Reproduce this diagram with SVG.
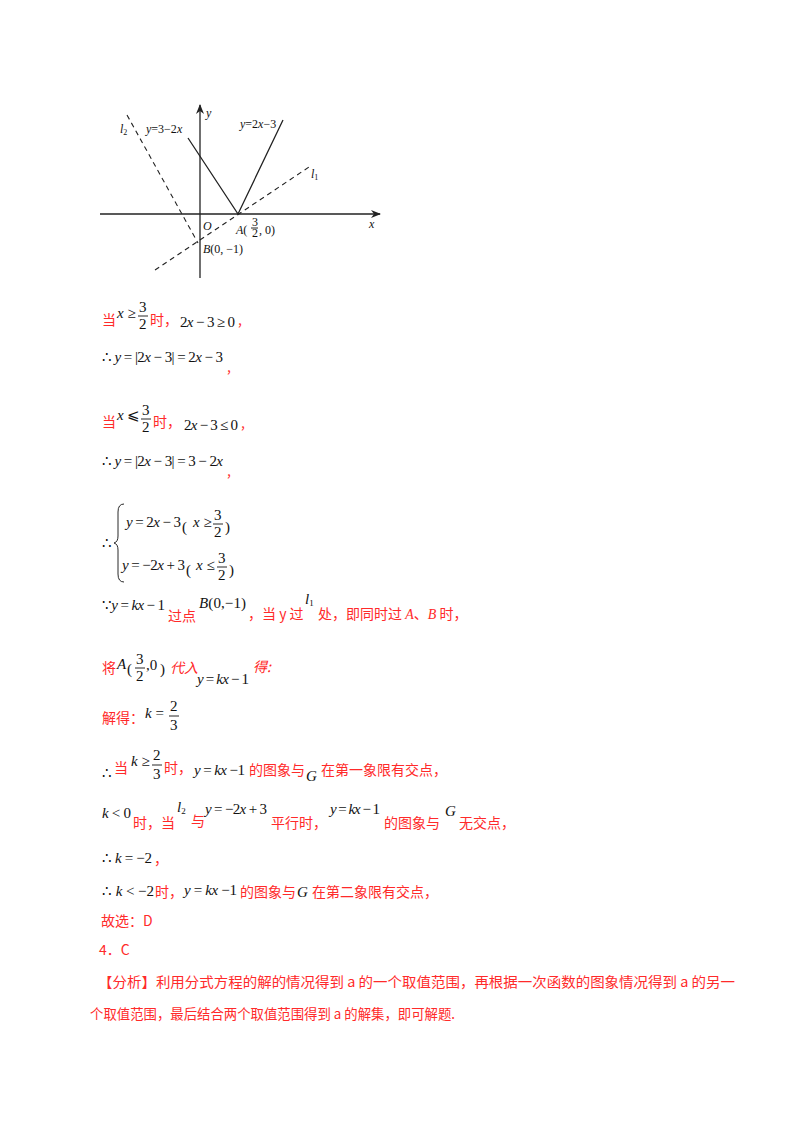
<svg xmlns="http://www.w3.org/2000/svg" width="800" height="1132" viewBox="0 0 800 1132">
<style>
.r{fill:#ff2a2a;font-family:"Noto Sans CJK SC",sans-serif;font-size:14px}
.m{fill:#111;font-family:"Liberation Serif",serif;font-size:15px}
.i{font-style:italic}
.g{fill:#111;font-family:"Liberation Serif",serif;font-size:12px;font-style:italic}
.gn{fill:#111;font-family:"Liberation Serif",serif;font-size:12px}
.ax{stroke:#222;stroke-width:1.3;fill:none}
.dash{stroke:#222;stroke-width:1.1;stroke-dasharray:5,4;fill:none}
.bar{stroke:#111;stroke-width:0.9}
</style>
<defs><marker id="ar" markerWidth="10" markerHeight="8" refX="9" refY="4" orient="auto" markerUnits="userSpaceOnUse"><path d="M0,0 L10,4 L0,8 L3,4 Z" fill="#222"/></marker></defs>
<rect width="800" height="1132" fill="#fff"/>
<g id="graph">
<line class="ax" x1="100" y1="214" x2="380" y2="214" marker-end="url(#ar)"/>
<line class="ax" x1="200" y1="278" x2="200" y2="105" marker-end="url(#ar)"/>
<polyline class="ax" points="188,138 238,214 283,120"/>
<line class="dash" x1="155" y1="270" x2="312" y2="165"/>
<line class="dash" x1="127" y1="115" x2="198" y2="243"/>
<text class="g" x="206" y="117">y</text>
<text class="g" x="120" y="133">l<tspan font-size="8" font-style="normal" dy="2">2</tspan></text>
<text class="g" x="146" y="133">y<tspan font-style="normal">=3−2</tspan>x</text>
<text class="g" x="240" y="128">y<tspan font-style="normal">=2</tspan>x<tspan font-style="normal">−3</tspan></text>
<text class="g" x="311" y="178">l<tspan font-size="8" font-style="normal" dy="2">1</tspan></text>
<text class="g" x="203" y="230">O</text>
<text class="g" x="236" y="234">A<tspan font-style="normal">(</tspan></text>
<text class="gn" x="252" y="226" font-size="10">3</text>
<line class="bar" x1="251" y1="228" x2="258" y2="228"/>
<text class="gn" x="252" y="237" font-size="10">2</text>
<text class="gn" x="259" y="234">, 0)</text>
<text class="g" x="203" y="253">B<tspan font-style="normal">(0, −1)</tspan></text>
<text class="g" x="369" y="228">x</text>
</g>
<g id="text">
<text class="r" x="102" y="325">当</text>
<text class="m" x="117" y="318"><tspan class="i">x</tspan> ≥</text>
<text class="m" x="139" y="312">3</text><line class="bar" x1="138" y1="316" x2="148" y2="316"/><text class="m" x="139" y="329">2</text>
<text class="r" x="150" y="325">时，</text>
<text class="m" x="180" y="327" textLength="55">2<tspan class="i">x</tspan> − 3 ≥ 0</text><text class="r" x="238" y="325">,</text>

<text class="m" x="102" y="362" textLength="121">∴ <tspan class="i">y</tspan> = |2<tspan class="i">x</tspan> − 3| = 2<tspan class="i">x</tspan> − 3</text>
<text class="r" x="227" y="372">,</text>

<text class="r" x="102" y="427">当</text>
<text class="m" x="117" y="420"><tspan class="i">x</tspan> ⩽</text>
<text class="m" x="142" y="415">3</text><line class="bar" x1="141" y1="419" x2="151" y2="419"/><text class="m" x="142" y="432">2</text>
<text class="r" x="153" y="427">时，</text>
<text class="m" x="184" y="430" textLength="54">2<tspan class="i">x</tspan> − 3 ≤ 0</text><text class="r" x="241" y="428">,</text>

<text class="m" x="102" y="466" textLength="121">∴ <tspan class="i">y</tspan> = |2<tspan class="i">x</tspan> − 3| = 3 − 2<tspan class="i">x</tspan></text>
<text class="r" x="227" y="476">,</text>

<text class="m" x="102" y="548">∴</text>
<path d="M124,504 Q118,504 118,512 L118,536 Q118,542 114,543 Q118,544 118,550 L118,574 Q118,582 124,582" fill="none" stroke="#111" stroke-width="0.9"/>
<text class="m" x="126" y="527" textLength="55"><tspan class="i">y</tspan> = 2<tspan class="i">x</tspan> − 3</text>
<text class="m" x="182" y="532" font-size="28">(</text>
<text class="m" x="193" y="527"><tspan class="i">x</tspan> ≥</text>
<text class="m" x="214" y="520">3</text><line class="bar" x1="213" y1="524" x2="223" y2="524"/><text class="m" x="214" y="537">2</text>
<text class="m" x="225" y="532" font-size="28">)</text>
<text class="m" x="122" y="570" textLength="63"><tspan class="i">y</tspan> = −2<tspan class="i">x</tspan> + 3</text>
<text class="m" x="186" y="575" font-size="28">(</text>
<text class="m" x="196" y="570"><tspan class="i">x</tspan> ≤</text>
<text class="m" x="218" y="563">3</text><line class="bar" x1="217" y1="567" x2="227" y2="567"/><text class="m" x="218" y="580">2</text>
<text class="m" x="229" y="575" font-size="28">)</text>

<text class="m" x="102" y="610" textLength="63">∵<tspan class="i">y</tspan> = <tspan class="i">kx</tspan> − 1</text>
<text class="r" x="168" y="621">过点</text>
<text class="m" x="199" y="608" textLength="47"><tspan class="i">B</tspan>(0,−1)</text>
<text class="r" x="248" y="619">，当 y 过</text>
<text class="m i" x="305" y="604">l<tspan font-size="9" font-style="normal" dy="2">1</tspan></text>
<text class="r" x="318" y="619">处，即同时过 <tspan font-style="italic" font-family="Liberation Serif">A</tspan>、<tspan font-style="italic" font-family="Liberation Serif">B</tspan> 时，</text>

<text class="r" x="102" y="673">将</text>
<text class="m i" x="117" y="669">A</text>
<text class="m" x="127" y="674" font-size="28">(</text>
<text class="m" x="136" y="664">3</text><line class="bar" x1="135" y1="668" x2="145" y2="668"/><text class="m" x="136" y="681">2</text>
<text class="m" x="146" y="670">,0</text>
<text class="m" x="160" y="674" font-size="28">)</text>
<text class="r" x="170" y="673" font-style="italic">代入</text>
<text class="m" x="197" y="684" textLength="52"><tspan class="i">y</tspan> = <tspan class="i">kx</tspan> − 1</text>
<text class="r" x="253" y="672" font-style="italic">得:</text>

<text class="r" x="102" y="723">解得：</text>
<text class="m" x="145" y="718"><tspan class="i">k</tspan> =</text>
<text class="m" x="170" y="711">2</text><line class="bar" x1="169" y1="716" x2="179" y2="716"/><text class="m" x="170" y="730">3</text>

<text class="m" x="102" y="778">∴</text>
<text class="r" x="114" y="773">当</text>
<text class="m" x="131" y="766"><tspan class="i">k</tspan> ≥</text>
<text class="m" x="153" y="760">2</text><line class="bar" x1="152" y1="765" x2="162" y2="765"/><text class="m" x="153" y="779">3</text>
<text class="r" x="164" y="773">时，</text>
<text class="m" x="194" y="775" textLength="51"><tspan class="i">y</tspan> = <tspan class="i">kx</tspan> −1</text>
<text class="r" x="249" y="775">的图象与</text>
<text class="m i" x="306" y="781">G</text>
<text class="r" x="321" y="775">在第一象限有交点，</text>

<text class="m" x="102" y="818" textLength="29"><tspan class="i">k</tspan> &lt; 0</text>
<text class="r" x="133" y="828">时，当</text>
<text class="m i" x="177" y="812">l<tspan font-size="9" font-style="normal" dy="2">2</tspan></text>
<text class="r" x="191" y="826">与</text>
<text class="m" x="205" y="814" textLength="62"><tspan class="i">y</tspan> = −2<tspan class="i">x</tspan> + 3</text>
<text class="r" x="271" y="828">平行时，</text>
<text class="m" x="330" y="814" textLength="50"><tspan class="i">y</tspan> = <tspan class="i">kx</tspan> − 1</text>
<text class="r" x="384" y="828">的图象与</text>
<text class="m i" x="445" y="816">G</text>
<text class="r" x="459" y="828">无交点，</text>

<text class="m" x="102" y="863" textLength="50">∴ <tspan class="i">k</tspan> = −2</text><text class="r" x="154" y="864">，</text>
<text class="m" x="102" y="896" textLength="52">∴ <tspan class="i">k</tspan> &lt; −2</text>
<text class="r" x="155" y="897">时，</text>
<text class="m" x="184" y="895" textLength="53"><tspan class="i">y</tspan> = <tspan class="i">kx</tspan> −1</text>
<text class="r" x="240" y="897">的图象与</text>
<text class="m i" x="297" y="897">G</text>
<text class="r" x="312" y="897">在第二象限有交点，</text>
<text class="r" x="101" y="926">故选：D</text>
<text class="r" x="99" y="955">4．C</text>
<text class="r" x="98" y="987" textLength="637" lengthAdjust="spacingAndGlyphs">【分析】利用分式方程的解的情况得到 a 的一个取值范围，再根据一次函数的图象情况得到 a  的另一</text>
<text class="r" x="90" y="1019" textLength="365" lengthAdjust="spacingAndGlyphs">个取值范围，最后结合两个取值范围得到 a 的解集，即可解题.</text>
</g>
</svg>
